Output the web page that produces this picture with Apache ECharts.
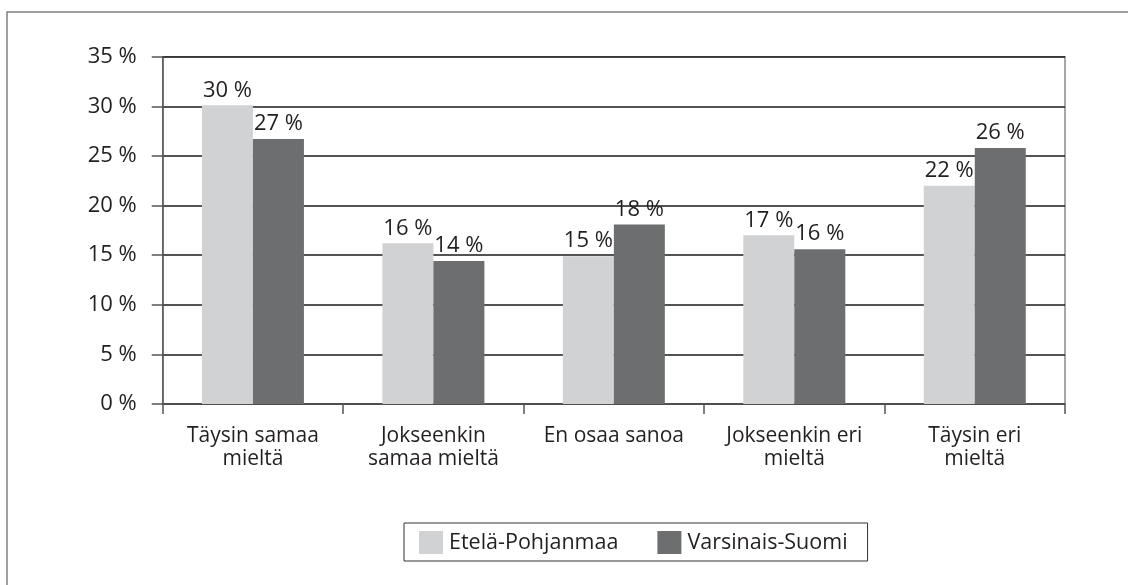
<!DOCTYPE html>
<html>
<head>
<meta charset="utf-8">
<script src="https://cdn.jsdelivr.net/npm/echarts@6/dist/echarts.min.js"></script>
<style>
html,body{margin:0;padding:0;background:#fff;}
#chart{width:1128px;height:585px;}
</style>
</head>
<body>
<div id="chart"></div>
<script>
const categories = ['Täysin samaa\nmieltä', 'Jokseenkin\nsamaa mieltä', 'En osaa sanoa', 'Jokseenkin eri\nmieltä', 'Täysin eri\nmieltä'];
const seriesNames = ['Etelä-Pohjanmaa', 'Varsinais-Suomi'];
const etelaPohjanmaa = [30.1, 16.2, 14.9, 17.0, 22.0];
const varsinaisSuomi = [26.7, 14.4, 18.1, 15.6, 25.8];
const yTicks = { min: 0, max: 35, interval: 5 };

const FONT = '"Open Sans", "DejaVu Sans", sans-serif';
const TXT = '#231f20';
const chart = echarts.init(document.getElementById('chart'), null, { renderer: 'canvas' });

function labelCfg() {
  return {
    show: true,
    position: 'top',
    distance: 4,
    color: TXT,
    fontFamily: FONT,
    fontSize: 22,
    formatter: p => Math.round(p.value) + ' %'
  };
}

chart.setOption({
  animation: false,
  backgroundColor: '#fff',
  graphic: [{
    type: 'rect',
    shape: { x: 7, y: 12, width: 1200, height: 700 },
    style: { fill: 'none', stroke: '#808080', lineWidth: 1.5 },
    z: 0
  }],
  grid: {
    left: 162.7, right: 63, top: 56.7, bottom: 181,
    show: true, borderColor: '#8a8a8a', borderWidth: 1.5, backgroundColor: 'transparent'
  },
  legend: {
    left: 404, top: 523,
    data: seriesNames,
    orient: 'horizontal',
    itemWidth: 24, itemHeight: 23, itemGap: 39,
    padding: [8, 20, 7, 15],
    borderColor: '#333', borderWidth: 1,
    icon: 'rect',
    textStyle: { color: TXT, fontFamily: FONT, fontSize: 21.5, padding: [0, 0, 0, 1] }
  },
  xAxis: {
    type: 'category',
    data: categories,
    boundaryGap: true,
    axisLine: { show: true, lineStyle: { color: '#555', width: 1.5 } },
    axisTick: { show: true, alignWithLabel: false, length: 10, lineStyle: { color: '#555', width: 1.5 } },
    axisLabel: { color: TXT, fontFamily: FONT, fontSize: 21, margin: 21, lineHeight: 23, interval: 0 },
    splitLine: { show: false }
  },
  yAxis: {
    type: 'value',
    min: yTicks.min, max: yTicks.max, interval: yTicks.interval,
    axisLine: { show: true, lineStyle: { color: '#555', width: 1.5 } },
    axisTick: { show: true, inside: false, length: 11, lineStyle: { color: '#555', width: 1.5 } },
    axisLabel: { color: TXT, fontFamily: FONT, fontSize: 22, margin: 26, formatter: '{value} %' },
    splitLine: { show: true, lineStyle: { color: '#1a1a1a', width: 1.5 } }
  },
  series: [
    {
      name: seriesNames[0], type: 'bar', data: etelaPohjanmaa,
      barWidth: 51, barGap: '0%',
      itemStyle: { color: '#d1d2d4' },
      label: labelCfg(), z: 3
    },
    {
      name: seriesNames[1], type: 'bar', data: varsinaisSuomi,
      barWidth: 51, barGap: '0%',
      itemStyle: { color: '#6d6e70' },
      label: labelCfg(), z: 3
    }
  ]
});
</script>
</body>
</html>
